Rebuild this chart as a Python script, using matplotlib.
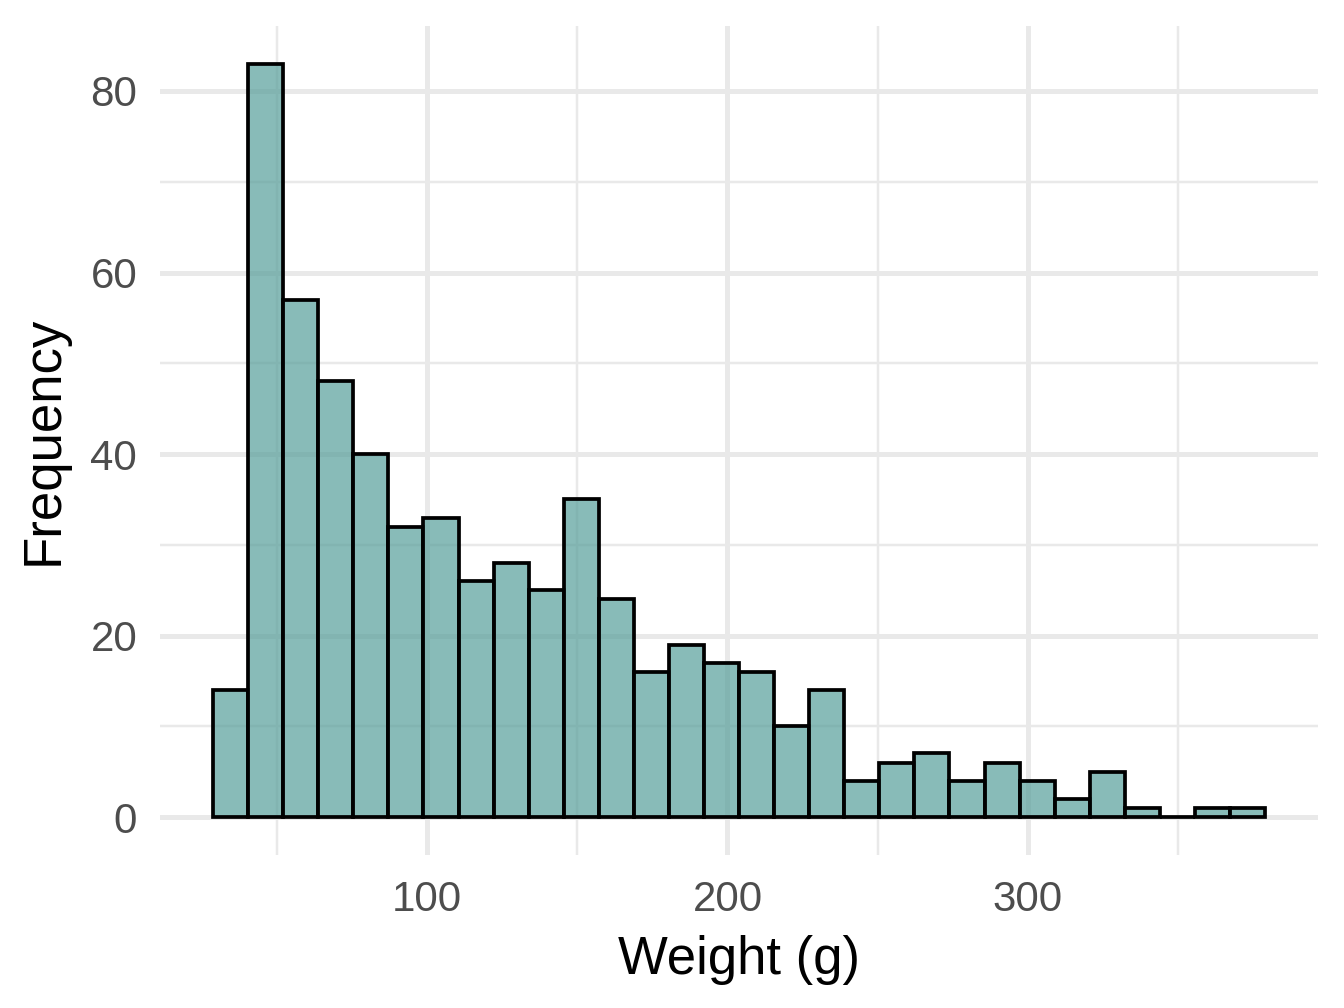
import matplotlib
matplotlib.use("Agg")
import matplotlib.pyplot as plt
import numpy as np

# Histogram data (30 bins)
bin_left = 28.8      # left edge of first bin
bin_width = 11.67    # width of each bin
counts = [14, 83, 57, 48, 40, 32, 33, 26, 28, 25, 35, 24, 16, 19, 17,
          16, 10, 14, 4, 6, 7, 4, 6, 4, 2, 5, 1, 0, 1, 1]
x_major = [100, 200, 300]
x_minor = [50, 150, 250, 350]
y_major = [0, 20, 40, 60, 80]
y_minor = [10, 30, 50, 70]
x_label = "Weight (g)"
y_label = "Frequency"

plt.rcParams['font.family'] = ['Liberation Sans', 'DejaVu Sans']

fig = plt.figure(figsize=(4, 3), dpi=336)
ax = fig.add_axes([0.1194, 0.1521, 0.9804 - 0.1194, 0.9741 - 0.1521])

lefts = bin_left + bin_width * np.arange(len(counts))
ax.bar(lefts, counts, width=bin_width, align='edge',
       color=(86/255, 158/255, 154/255, 0.7), edgecolor='black',
       linewidth=0.8, zorder=3)

xmin = bin_left
xmax = bin_left + bin_width * len(counts)
pad = (xmax - xmin) * 0.05
ax.set_xlim(xmin - pad, xmax + pad)
ymax = max(counts)
ax.set_ylim(-ymax * 0.05, ymax * 1.05)

ax.set_xticks(x_major)
ax.set_xticks(x_minor, minor=True)
ax.set_yticks(y_major)
ax.set_yticks(y_minor, minor=True)
ax.grid(which='major', color='#E9E9E9', linewidth=1.07, zorder=0)
ax.grid(which='minor', color='#E9E9E9', linewidth=0.53, zorder=0)
ax.set_axisbelow(True)
for s in ax.spines.values():
    s.set_visible(False)
ax.tick_params(which='both', length=0)
ax.tick_params(axis='x', which='major', labelsize=9.0, labelcolor='#4D4D4D', pad=5.4)
ax.tick_params(axis='y', which='major', labelsize=9.0, labelcolor='#4D4D4D', pad=5.0)

ax.set_xlabel(x_label, fontsize=11.3, color='black', labelpad=3.3)
ax.set_ylabel(y_label, fontsize=11.3, color='black', labelpad=4.6)

fig.savefig("out.png", dpi=336, facecolor='white')
